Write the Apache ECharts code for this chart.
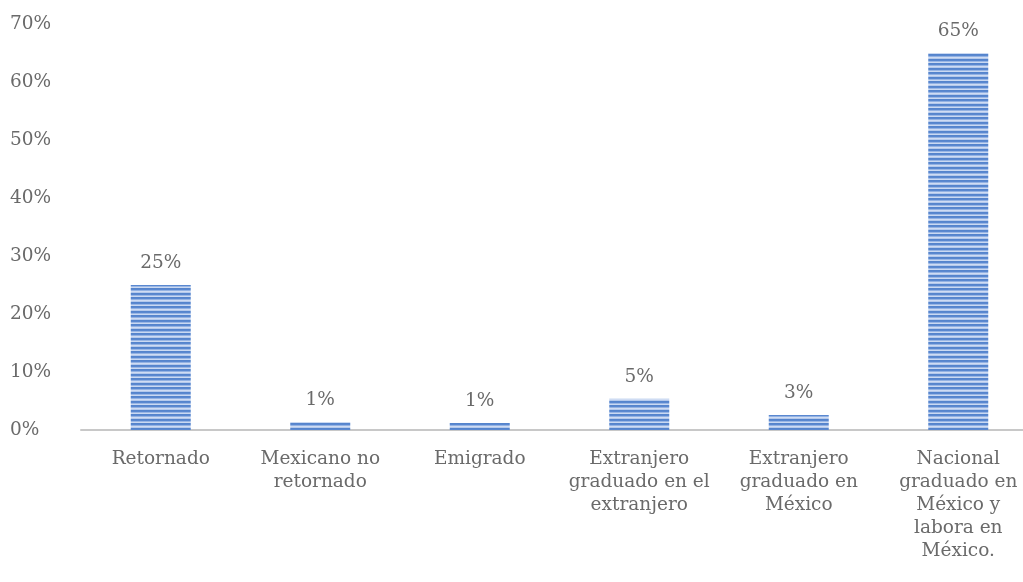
<!DOCTYPE html>
<html><head><meta charset="utf-8">
<script src="https://cdn.jsdelivr.net/npm/echarts@6/dist/echarts.min.js"></script>
<style>html,body{margin:0;padding:0;background:#fff;overflow:hidden;width:1023px;height:582px}#c{width:1038px;height:582px}</style>
</head><body><div id="c"></div>
<script>
const categories = ['Retornado','Mexicano no\nretornado','Emigrado','Extranjero\ngraduado en el\nextranjero','Extranjero\ngraduado en\nMéxico','Nacional\ngraduado en\nMéxico y\nlabora en\nMéxico.'];
const values = [25, 1.4, 1.2, 5.4, 2.6, 65];
const labels = ['25%','1%','1%','5%','3%','65%'];
const yTicks = [0,10,20,30,40,50,60,70];

const cv = document.createElement('canvas');
cv.width = 8; cv.height = 9;
const g = cv.getContext('2d');
const rows = ['#5584cc','#5a88d0','#93b2e3','#cfdcf3','#b4c9ec','#5584cc','#5a88d0','#9ab7e5','#cad9f2'];
rows.forEach((c,i)=>{g.fillStyle=c; g.fillRect(0,i,8,1);});

const chart = echarts.init(document.getElementById('c'));
const font = 'DejaVu Serif';
const tc = '#6a6a6a';
chart.setOption({
  animation:false,
  grid:{left:81,right:0,top:24,bottom:152},
  xAxis:{type:'category',data:categories,
    axisLine:{lineStyle:{color:'#c8c8c8',width:2}},axisTick:{show:false},
    axisLabel:{color:tc,fontFamily:font,fontSize:18.5,lineHeight:23,margin:18,interval:0}},
  yAxis:{type:'value',min:0,max:70,interval:10,
    splitLine:{show:false},axisLine:{show:false},axisTick:{show:false},
    axisLabel:{color:tc,fontFamily:font,fontSize:18.5,margin:71,align:'left',
      formatter:v=>v+'%'}},
  series:[{type:'bar',data:values,barWidth:60,
    itemStyle:{color:{image:cv,repeat:'repeat'}},
    label:{show:true,position:'top',distance:12,color:tc,fontFamily:font,fontSize:18.5,
      formatter:p=>labels[p.dataIndex]}}]
});
</script></body></html>
